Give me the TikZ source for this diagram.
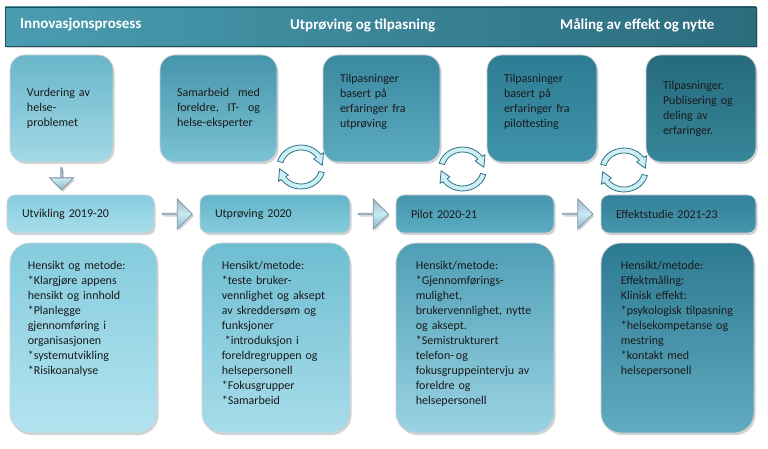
\documentclass[tikz,border=0pt]{standalone}
\usepackage{fontspec}
\setmainfont{Carlito}
\usetikzlibrary{shapes.arrows,shadows,calc}

\definecolor{txt}{HTML}{1A1A1A}
\definecolor{hdrL}{HTML}{4A9DB1}
\definecolor{hdrR}{HTML}{2B6C7D}
\definecolor{t1a}{HTML}{6AB6CA}\definecolor{t1b}{HTML}{A2D9E7}
\definecolor{t2a}{HTML}{4795AB}\definecolor{t2b}{HTML}{7BC2D4}
\definecolor{t3a}{HTML}{3A89A0}\definecolor{t3b}{HTML}{5CAAC0}
\definecolor{t4a}{HTML}{2D7C93}\definecolor{t4b}{HTML}{3F93AA}
\definecolor{t5a}{HTML}{266A7D}\definecolor{t5b}{HTML}{378699}
\definecolor{m1a}{HTML}{86CDDF}\definecolor{m1b}{HTML}{A7DEEB}
\definecolor{m2a}{HTML}{63B5CA}\definecolor{m2b}{HTML}{86CCDD}
\definecolor{m3a}{HTML}{4697AE}\definecolor{m3b}{HTML}{5BABC1}
\definecolor{m4a}{HTML}{33819A}\definecolor{m4b}{HTML}{4595AB}
\definecolor{b1a}{HTML}{85CCDE}\definecolor{b1b}{HTML}{B3E3EF}
\definecolor{b2a}{HTML}{6EBDD1}\definecolor{b2b}{HTML}{A8DDEA}
\definecolor{b3a}{HTML}{4F9EB5}\definecolor{b3b}{HTML}{9AD3E3}
\definecolor{b4a}{HTML}{2C7A91}\definecolor{b4b}{HTML}{62ABC0}
\definecolor{arrowT}{HTML}{A3B6C4}
\definecolor{arrowL}{HTML}{C6EBF4}
\definecolor{arrowD}{HTML}{8DB4C6}
\definecolor{arrowedge}{HTML}{7D8E9C}
\definecolor{cycedge}{HTML}{2D7285}
\definecolor{cycfill}{HTML}{CDEEF5}

\begin{document}
\begin{tikzpicture}[x=1pt,y=-1pt,
  every node/.style={font=\fontsize{12}{15}\selectfont,text=txt,inner sep=0pt},
  shade/.style={drop shadow={shadow xshift=1.5pt,shadow yshift=-2pt,opacity=.35}},
  rim/.style={shade,draw=black!18,line width=.8pt},
  bar/.style={shade,minimum width=751pt,minimum height=39pt,left color=hdrL,right color=hdrR,draw=hdrR!70!black,line width=.6pt},
  bartext/.style={anchor=west,text=white,font=\bfseries\fontsize{15}{18}\selectfont},
  topbox/.style={rim,rounded corners=15pt,minimum height=107pt,inner xsep=17pt,align=left},
  midbox/.style={rim,rounded corners=8pt,minimum height=38pt,inner xsep=15pt,align=left},
  botbox/.style={rim,rounded corners=20pt,minimum height=190pt},
  bodytext/.style={anchor=north west,align=left,text width=130pt},
  blockarrow/.style={shade,single arrow,single arrow head extend=8.5pt,single arrow tip angle=90,
    minimum height=30pt,minimum width=30pt,draw=arrowedge,line width=.8pt,
    top color=arrowT,bottom color=arrowD,middle color=arrowL},
  cyc/.style={draw=cycedge,line width=.8pt,fill=cycfill,line join=round}]
  \useasboundingbox (0,0) rectangle (768,449);

  % Overskrift
  \node[bar] (h) at (380.5,26.5) {};
  \node[bartext] (h1) at (20,25) {Innovasjonsprosess};
  \node[bartext] (h2) at (290,25) {Utprøving og tilpasning};
  \node[bartext] (h3) at (560,25) {Måling av effekt og nytte};

  % Øvre bokser
  \node[topbox,text width=69pt,top color=t1a,bottom color=t1b] (t1) at (61.5,108.5) {Vurdering av\\ helse-\\ problemet};
  \node[topbox,text width=83pt,top color=t2a,bottom color=t2b] (t2) at (218.5,108.5) {Samarbeid\hfill med\\ foreldre,\hfill IT-\hfill og\\ helse-eksperter};
  \node[topbox,text width=83pt,top color=t3a,bottom color=t3b] (t3) at (381.5,108.5) {Tilpasninger\\ basert på\\ erfaringer fra\\ utprøving\\ \mbox{}};
  \node[topbox,text width=76pt,top color=t4a,bottom color=t4b] (t4) at (542,108.5) {Tilpasninger\\ basert på\\ erfaringer fra\\ pilottesting\\ \mbox{}};
  \node[topbox,text width=76pt,top color=t5a,bottom color=t5b] (t5) at (701,108.5) {Tilpasninger.\\ Publisering og\\ deling av\\ erfaringer.};

  % Faser
  \node[midbox,text width=117pt,top color=m1a,bottom color=m1b] (m1) at (80.5,214) {Utvikling 2019-20};
  \node[midbox,text width=120pt,top color=m2a,bottom color=m2b] (m2) at (275,214) {Utprøving 2020};
  \node[midbox,text width=128pt,top color=m3a,bottom color=m3b] (m3) at (475,214) {Pilot 2020-21};
  \node[midbox,text width=125pt,top color=m4a,bottom color=m4b] (m4) at (678.5,214) {Effektstudie 2021-23};

  % Nedre bokser
  \node[botbox,minimum width=147pt,top color=b1a,bottom color=b1b] (b1) at (83.5,338) {};
  \node[botbox,minimum width=148pt,top color=b2a,bottom color=b2b] (b2) at (276,338) {};
  \node[botbox,minimum width=158pt,top color=b3a,bottom color=b3b] (b3) at (475,338) {};
  \node[botbox,minimum width=153pt,top color=b4a,bottom color=b4b] (b4) at (677.5,338) {};

  \node[bodytext] (bt1) at ([shift={(18,18)}]b1.north west) {Hensikt og metode:\\{}*Klargjøre appens\\ hensikt og innhold\\{}*Planlegge\\ gjennomføring i\\ organisasjonen\\{}*systemutvikling\\{}*Risikoanalyse};
  \node[bodytext] (bt2) at ([shift={(20,18)}]b2.north west) {Hensikt/metode:\\{}*teste bruker-\\ vennlighet og aksept\\ av skreddersøm og\\ funksjoner\\ \hspace*{3pt}*introduksjon i\\ foreldregruppen og\\ helsepersonell\\{}*Fokusgrupper\\{}*Samarbeid};
  \node[bodytext] (bt3) at ([shift={(20,18)}]b3.north west) {Hensikt/metode:\\{}*Gjennomførings-\\ mulighet,\\ brukervennlighet, nytte\\ og aksept.\\{}*Semistrukturert\\ telefon-\,og\\ fokusgruppeintervju av\\ foreldre og\\ helsepersonell};
  \node[bodytext] (bt4) at ([shift={(20,18)}]b4.north west) {Hensikt/metode:\\ Effektmåling:\\ Klinisk effekt:\\{}*psykologisk tilpasning\\{}*helsekompetanse og\\ mestring\\{}*kontakt med\\ helsepersonell};

  % Piler
  \node[blockarrow,shape border rotate=270,minimum height=22pt,minimum width=24pt,single arrow head extend=6pt] (d1) at ($(t1.south)!.5!(t1.south |- m1.north)$) {};
  \node[blockarrow] (p1) at ($(m1.east)!.5!(m2.west)$) {};
  \node[blockarrow] (p2) at ($(m2.east)!.5!(m3.west)$) {};
  \node[blockarrow] (p3) at ($(m3.east)!.5!(m4.west)$) {};

  % Sykluser
  \coordinate (c1) at (301,167);
  \coordinate (c2) at (462.5,169);
  \coordinate (c3) at (624,170);
  \foreach \c in {c1,c2,c3}
    \foreach \r in {0,180}
      \draw[cyc,shift={(\c)},yscale=-1,xscale=1.1,rotate=\r]
        (165:22) arc[start angle=165,end angle=35,radius=22] -- (35:25) -- (5:19.5)
        -- (35:14) -- (35:17) arc[start angle=35,end angle=165,radius=17] -- cycle;
\end{tikzpicture}
\end{document}
